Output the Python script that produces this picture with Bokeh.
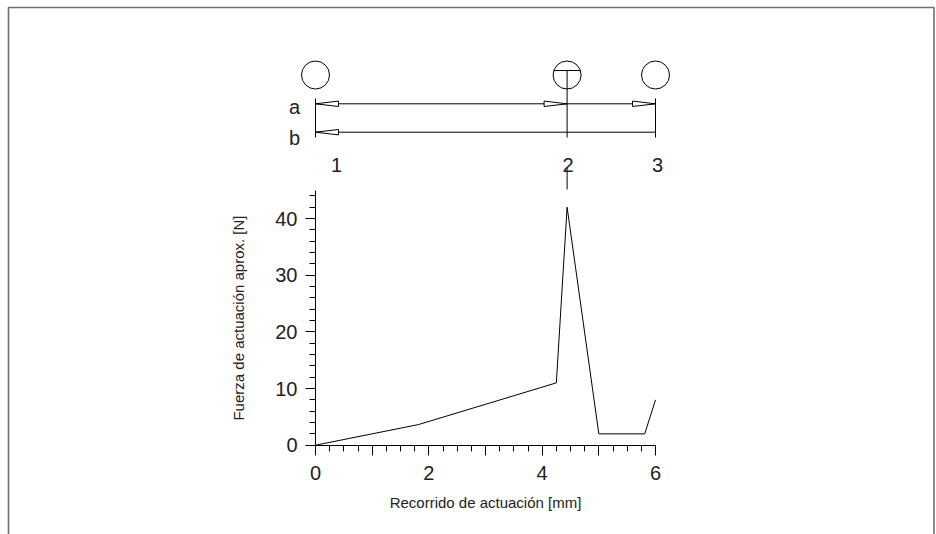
from bokeh.plotting import figure
from bokeh.models import Range1d, FixedTicker
from bokeh.embed import file_html
from bokeh.resources import INLINE
from bokeh.core.properties import value

# ---------------- data ----------------
travel_mm = [0.0, 1.82, 4.25, 4.44, 5.0, 5.81, 6.0]
force_n = [0.0, 3.65, 11.0, 42.0, 2.0, 2.0, 8.0]

x_major_ticks = [0, 1, 2, 3, 4, 5, 6]
x_label_overrides = {1: "", 3: "", 5: ""}
x_minor_ticks = [0.25, 0.5, 0.75, 1.25, 1.5, 1.75, 2.25, 2.5, 2.75, 3.25, 3.5, 3.75,
                 4.25, 4.5, 4.75, 5.25, 5.5, 5.75]
y_major_ticks = [0, 10, 20, 30, 40]
y_minor_ticks = [2, 4, 6, 8, 12, 14, 16, 18, 22, 24, 26, 28, 32, 34, 36, 38, 42, 44]

switch_positions = [0.0, 4.44, 6.0]
switch_labels = ["1", "2", "3"]
row_labels = ["a", "b"]

x_axis_title = "Recorrido de actuación [mm]"
y_axis_title = "Fuerza de actuación aprox. [N]"

# ---------------- layout ----------------
W, H = 936, 534
X0_PX, X6_PX = 315.0, 655.0
Y0_PX = 444.7
PXX = (X6_PX - X0_PX) / 6.0
PXY = 255.0 / 45.0
FONT = "Liberation Sans"
TXT = "#222222"


def xp(px):
    return (px - X0_PX) / PXX


def yp(px):
    return (Y0_PX - px) / PXY


def dx(px):
    return px / PXX


def dy(px):
    return px / PXY


p = figure(width=W, height=H, output_backend="svg", toolbar_location=None,
           x_range=Range1d(xp(0), xp(W)), y_range=Range1d(yp(H), yp(0)),
           min_border=0, min_border_left=0, min_border_right=0,
           min_border_top=0, min_border_bottom=0)
p.outline_line_color = None
p.grid.visible = False
p.background_fill_color = "white"
p.border_fill_color = "white"

# axes
for ax in (p.xaxis[0], p.yaxis[0]):
    ax.fixed_location = 0
    ax.axis_line_color = "black"
    ax.major_tick_line_color = "black"
    ax.minor_tick_line_color = "black"
    ax.major_tick_in = 0
    ax.minor_tick_in = 0
    ax.major_tick_out = 10
    ax.minor_tick_out = 6
    ax.major_label_text_font = FONT
    ax.major_label_text_font_size = "20px"
    ax.major_label_text_color = TXT
    ax.axis_label_text_font = FONT
    ax.axis_label_text_font_size = "15px"
    ax.axis_label_text_font_style = "normal"
    ax.axis_label_text_color = TXT

p.xaxis.ticker = FixedTicker(ticks=x_major_ticks, minor_ticks=x_minor_ticks)
p.xaxis.major_label_overrides = x_label_overrides
p.xaxis.bounds = (0, 6)
p.xaxis.major_label_standoff = 11
p.xaxis.axis_label = x_axis_title
p.xaxis.axis_label_standoff = 10

p.yaxis.ticker = FixedTicker(ticks=y_major_ticks, minor_ticks=y_minor_ticks)
p.yaxis.bounds = (0, 45)
p.yaxis.major_label_standoff = 8
p.yaxis.axis_label = y_axis_title
p.yaxis.axis_label_standoff = 25

# data line
p.line(travel_mm, force_n, line_color="black", line_width=1)

# ---------------- switching diagram ----------------
y_circ = yp(74.5)
y_a = yp(103.3)
y_b = yp(131.7)
p.scatter(switch_positions, [y_circ] * 3, marker="circle", size=28,
          fill_color=None, line_color="black", line_width=1)

x2 = switch_positions[1]
seg_x0 = [switch_positions[0], switch_positions[0], x2 - dx(13.3),
          switch_positions[0], switch_positions[2], x2, x2]
seg_x1 = [switch_positions[2], switch_positions[2], x2 + dx(13.3),
          switch_positions[0], switch_positions[2], x2, x2]
seg_y0 = [y_a, y_b, yp(70), yp(98), yp(98), yp(70), yp(167)]
seg_y1 = [y_a, y_b, yp(70), yp(137), yp(137), yp(137), yp(189)]
p.segment(seg_x0, seg_y0, seg_x1, seg_y1, line_color="black", line_width=1)

AL, AH = dx(23), dy(2.7)
arrow_xs, arrow_ys = [], []
# left-pointing heads at position 1 on rows a and b
for yy in (y_a, y_b):
    t = switch_positions[0]
    arrow_xs.append([t, t + AL, t + AL])
    arrow_ys.append([yy, yy + AH, yy - AH])
# right-pointing heads at positions 2 and 3 on row a
for t in (switch_positions[1], switch_positions[2]):
    arrow_xs.append([t, t - AL, t - AL])
    arrow_ys.append([y_a, y_a + AH, y_a - AH])
p.patches(arrow_xs, arrow_ys, fill_color="white", line_color="black", line_width=1)

p.text(x=[0, 0], y=[yp(106.7), yp(137)], text=row_labels, x_offset=-21,
       text_align="center", text_baseline="alphabetic",
       text_font=value(FONT), text_font_size="20px", text_color=TXT)
p.text(x=switch_positions, y=[yp(164)] * 3, text=switch_labels,
       x_offset=[21, 1, 2], text_align="center", text_baseline="alphabetic",
       text_font=value(FONT), text_font_size="20px", text_color=TXT)

# page border (left, top, right)
p.line([xp(8), xp(8), xp(933.5), xp(933.5)], [yp(H), yp(7), yp(7), yp(H)],
       line_color="#707070", line_width=1.6)

open("out.html", "w").write(file_html(p, INLINE))
